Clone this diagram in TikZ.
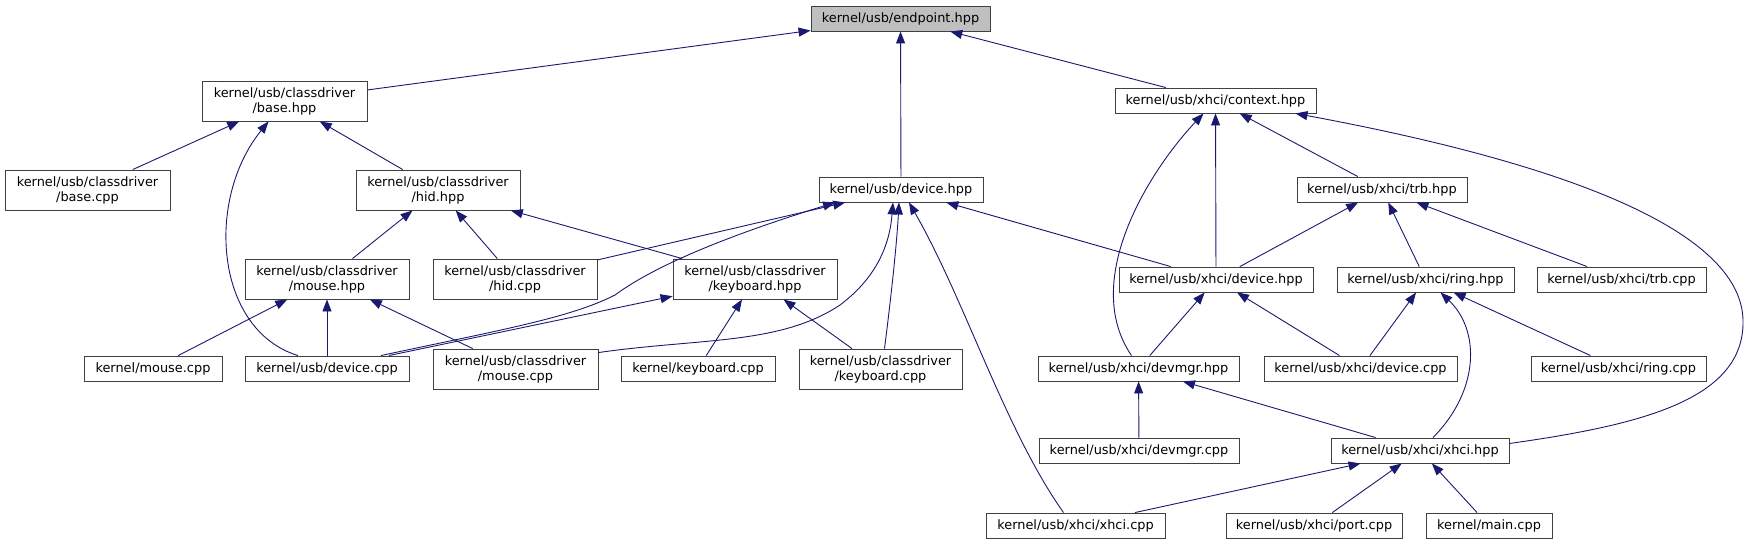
\documentclass[tikz,border=0pt]{standalone}
\usepackage{fontspec}
\setmainfont{DejaVu Sans}
\usetikzlibrary{calc, arrows.meta}

\definecolor{edgeblue}{RGB}{25,25,112}
\definecolor{focusgray}{RGB}{191,191,191}

\begin{document}
\begin{tikzpicture}[
  x=1pt, y=-1pt,
  file/.style={rectangle, draw=black!75, line width=0.9pt, fill=white, inner sep=0pt, minimum height=25pt, align=center},
  file2/.style={file, minimum height=40pt},
  dep/.style={-{Triangle[length=12pt, width=9pt]}, draw=edgeblue, line width=0.9pt},
  every node/.style={font=\fontsize{12.9}{15}\selectfont}
]
\useasboundingbox (0,0) rectangle (1754,544);

%------------------------------------------------
% Root header
%------------------------------------------------
\node[file, fill=focusgray, minimum width=179pt] (ep_hpp) at (900.5,18.5) {kernel/usb/endpoint.hpp};

%------------------------------------------------
% Class drivers
%------------------------------------------------
\node[file2, minimum width=165pt] (base_hpp) at (284.5,101) {kernel/usb/classdriver\\/base.hpp};
\node[file2, minimum width=165pt] (base_cpp) at (87.5,190) {kernel/usb/classdriver\\/base.cpp};
\node[file2, minimum width=164pt] (hid_hpp) at (438,190) {kernel/usb/classdriver\\/hid.hpp};
\node[file2, minimum width=164pt] (mouse_hpp) at (327,279) {kernel/usb/classdriver\\/mouse.hpp};
\node[file2, minimum width=164pt] (hid_cpp) at (515,279) {kernel/usb/classdriver\\/hid.cpp};
\node[file2, minimum width=164pt] (kbd_hpp) at (755,279) {kernel/usb/classdriver\\/keyboard.hpp};
\node[file, minimum width=138pt] (kmouse_cpp) at (153,368.5) {kernel/mouse.cpp};
\node[file, minimum width=164pt] (device_cpp) at (327,368.5) {kernel/usb/device.cpp};
\node[file2, minimum width=165pt] (mouse_cpp) at (515.5,369) {kernel/usb/classdriver\\/mouse.cpp};
\node[file, minimum width=154pt] (kkbd_cpp) at (698,368.5) {kernel/keyboard.cpp};
\node[file2, minimum width=163pt] (kbd_cpp) at (880.5,369) {kernel/usb/classdriver\\/keyboard.cpp};
\node[file, minimum width=164pt] (device_hpp) at (901,189.5) {kernel/usb/device.hpp};

%------------------------------------------------
% xHCI
%------------------------------------------------
\node[file, minimum width=201pt] (context_hpp) at (1215.5,100.5) {kernel/usb/xhci/context.hpp};
\node[file, minimum width=170pt] (trb_hpp) at (1382,189.5) {kernel/usb/xhci/trb.hpp};
\node[file, minimum width=194pt] (xdev_hpp) at (1216,279.5) {kernel/usb/xhci/device.hpp};
\node[file, minimum width=177pt] (ring_hpp) at (1425.5,279.5) {kernel/usb/xhci/ring.hpp};
\node[file, minimum width=169pt] (trb_cpp) at (1621.5,279.5) {kernel/usb/xhci/trb.cpp};
\node[file, minimum width=201pt] (devmgr_hpp) at (1138.5,368.5) {kernel/usb/xhci/devmgr.hpp};
\node[file, minimum width=193pt] (xdev_cpp) at (1360.5,368.5) {kernel/usb/xhci/device.cpp};
\node[file, minimum width=175pt] (ring_cpp) at (1618.5,368.5) {kernel/usb/xhci/ring.cpp};
\node[file, minimum width=200pt] (devmgr_cpp) at (1139,450.5) {kernel/usb/xhci/devmgr.cpp};
\node[file, minimum width=178pt] (xhci_hpp) at (1420,450.5) {kernel/usb/xhci/xhci.hpp};
\node[file, minimum width=179pt] (xhci_cpp) at (1075.5,525.5) {kernel/usb/xhci/xhci.cpp};
\node[file, minimum width=176pt] (port_cpp) at (1314,525.5) {kernel/usb/xhci/port.cpp};
\node[file, minimum width=126pt] (main_cpp) at (1489,525.5) {kernel/main.cpp};

%------------------------------------------------
% Includes of endpoint.hpp
%------------------------------------------------
\draw[dep] (base_hpp) -- (ep_hpp);
\draw[dep] (device_hpp) -- (ep_hpp);
\draw[dep] (context_hpp) -- (ep_hpp);

% class driver includes
\draw[dep] (base_cpp) -- (base_hpp);
\draw[dep] (hid_hpp) -- (base_hpp);
\draw[dep] ($(device_cpp.north)+(-29,0)$) .. controls (215,330) and (205,200) .. ($(base_hpp.south)+(-16,0)$);
\draw[dep] (mouse_hpp) -- (hid_hpp);
\draw[dep] (hid_cpp) -- (hid_hpp);
\draw[dep] (kbd_hpp) -- (hid_hpp);
\draw[dep] (kmouse_cpp) -- (mouse_hpp);
\draw[dep] (device_cpp) -- (mouse_hpp);
\draw[dep] (mouse_cpp) -- (mouse_hpp);
\draw[dep] (device_cpp) -- (kbd_hpp);
\draw[dep] (kkbd_cpp) -- (kbd_hpp);
\draw[dep] (kbd_cpp) -- (kbd_hpp);

% device.hpp includes
\draw[dep] (hid_cpp) -- (device_hpp);
\draw[dep] ($(device_cpp.north)+(54,0)$) .. controls (500,330) and (570,318) .. (615,295)
  .. controls (660,262) and (740,232) .. ($(device_hpp.south)+(-66,0)$);
\draw[dep] ($(mouse_cpp.north east)+(0,4)$) .. controls (700,338) and (780,345) .. (840,305)
  .. controls (880,275) and (890,240) .. ($(device_hpp.south)+(-8,0)$);
\draw[dep] ($(kbd_cpp.north)+(4,0)$) .. controls (892,290) and (897,240) .. ($(device_hpp.south)+(-2,0)$);
\draw[dep] ($(xhci_cpp.north)+(-12,0)$) .. controls (1005,430) and (965,300) .. ($(device_hpp.south)+(8,0)$);
\draw[dep] (xdev_hpp) -- (device_hpp);

%------------------------------------------------
% xHCI includes
%------------------------------------------------
\draw[dep] (xdev_hpp) -- (context_hpp);
\draw[dep] ($(devmgr_hpp.north)+(-7,0)$) .. controls (1080,280) and (1150,170) .. ($(context_hpp.south)+(-12,0)$);
\draw[dep] (trb_hpp) -- (context_hpp);
\draw[dep] ($(xhci_hpp.east)+(0,-7)$) .. controls (1640,425) and (1745,400) .. (1743,320)
  .. controls (1741,240) and (1600,170) .. ($(context_hpp.south east)+(-21,0)$);
\draw[dep] (xdev_hpp) -- (trb_hpp);
\draw[dep] (ring_hpp) -- (trb_hpp);
\draw[dep] (trb_cpp) -- (trb_hpp);
\draw[dep] (devmgr_hpp) -- (xdev_hpp);
\draw[dep] (xdev_cpp) -- (xdev_hpp);
\draw[dep] (xdev_cpp) -- (ring_hpp);
\draw[dep] ($(xhci_hpp.north)+(13,0)$) .. controls (1480,390) and (1480,330) .. ($(ring_hpp.south)+(15,0)$);
\draw[dep] (ring_cpp) -- (ring_hpp);
\draw[dep] (devmgr_cpp) -- (devmgr_hpp);
\draw[dep] (xhci_hpp) -- (devmgr_hpp);
\draw[dep] (xhci_cpp) -- (xhci_hpp);
\draw[dep] (port_cpp) -- (xhci_hpp);
\draw[dep] (main_cpp) -- (xhci_hpp);

\end{tikzpicture}
\end{document}
